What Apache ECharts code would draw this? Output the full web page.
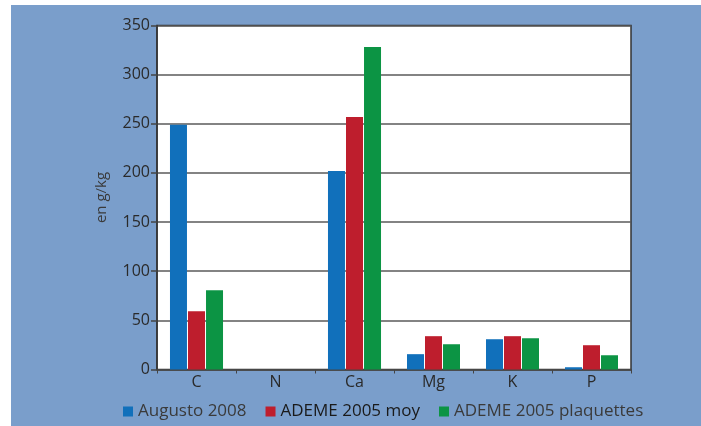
<!DOCTYPE html>
<html>
<head>
<meta charset="utf-8">
<script src="https://cdn.jsdelivr.net/npm/echarts@6/dist/echarts.min.js"></script>
<style>
  body { margin: 0; background: #ffffff; }
  #panel { position: absolute; left: 11px; top: 5px; width: 690px; height: 421px; background: #7a9ecb; }
  #chart { position: absolute; left: 0; top: 0; width: 701px; height: 426px; }
</style>
</head>
<body>
<div id="panel"></div>
<div id="chart"></div>
<script>
const categories = ["C", "N", "Ca", "Mg", "K", "P"];
const seriesNames = ["Augusto 2008", "ADEME 2005 moy", "ADEME 2005 plaquettes"];
const augusto2008 = [249, 0, 202, 15.6, 30.8, 2.3];
const ademeMoy = [59.3, 0, 257, 33.9, 33.9, 24.7];
const ademePlaquettes = [80.7, 0, 328, 25.7, 31.8, 14.5];
const colors = ["#1170bb", "#be1e2d", "#0c9444"];

const chart = echarts.init(document.getElementById("chart"), null, { renderer: "canvas" });

chart.setOption({
  backgroundColor: "transparent",
  textStyle: { fontFamily: "Open Sans" },
  grid: {
    left: 157, right: 70, top: 25.5, bottom: 56.5,
    show: true, backgroundColor: "#ffffff", borderColor: "#333333", borderWidth: 1.5
  },
  legend: {
    left: 123, top: 403, padding: 0,
    icon: "rect", itemWidth: 10, itemHeight: 10, itemGap: 19,
    textStyle: { fontSize: 17, color: "#3a3a3a", fontFamily: "Open Sans" },
    data: [
      { name: seriesNames[0] },
      { name: seriesNames[1], textStyle: { color: "#1a1a1a" } },
      { name: seriesNames[2] }
    ]
  },
  xAxis: {
    type: "category",
    data: categories,
    axisLine: { lineStyle: { color: "#444444", width: 1.5 } },
    axisTick: { show: true, length: 4, lineStyle: { color: "#444444" } },
    axisLabel: { fontSize: 16, color: "#2a2a2a", margin: 5 }
  },
  yAxis: {
    type: "value",
    min: 0, max: 350, interval: 50,
    name: "en g/kg",
    nameLocation: "middle",
    nameGap: 48,
    nameTextStyle: { fontSize: 15, color: "#3a3a3a" },
    axisLine: { show: true, lineStyle: { color: "#333333", width: 1.5 } },
    axisTick: { show: true, length: 6, lineStyle: { color: "#444444", width: 1.5 } },
    axisLabel: { fontSize: 16, color: "#2a2a2a", margin: 7 },
    splitLine: { lineStyle: { color: "#5a5a5a", width: 1.5 } }
  },
  series: [
    { name: seriesNames[0], type: "bar", data: augusto2008, itemStyle: { color: colors[0] }, barWidth: 17, barGap: "6%" },
    { name: seriesNames[1], type: "bar", data: ademeMoy, itemStyle: { color: colors[1] }, barWidth: 17, barGap: "6%" },
    { name: seriesNames[2], type: "bar", data: ademePlaquettes, itemStyle: { color: colors[2] }, barWidth: 17, barGap: "6%" }
  ]
});
</script>
</body>
</html>
